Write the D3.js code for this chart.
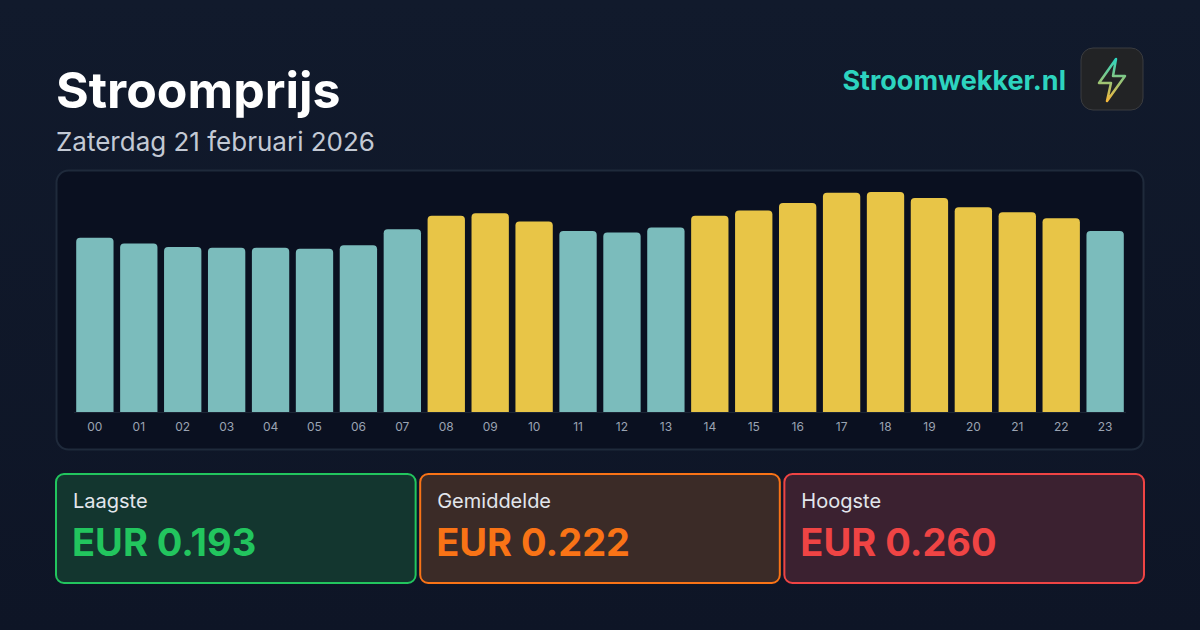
<!DOCTYPE html>
<html><head><meta charset="utf-8">
<script src="https://cdn.jsdelivr.net/npm/d3@7"></script>
<style>body{margin:0;background:#0f172a;}svg{display:block;font-family:Inter,sans-serif;}</style>
</head><body>
<script>
const hours = ['00','01','02','03','04','05','06','07','08','09','10','11','12','13','14','15','16','17','18','19','20','21','22','23'];
const prices = [0.206,0.199,0.195,0.194,0.194,0.193,0.197,0.216,0.232,0.235,0.225,0.214,0.212,0.218,0.232,0.238,0.247,0.259,0.260,0.253,0.242,0.236,0.229,0.214];
const statLabels = ['Laagste','Gemiddelde','Hoogste'];
const statValues = ['EUR 0.193','EUR 0.222','EUR 0.260'];
const average = 0.222;

const W = 1200, H = 630;
const svg = d3.select('body').append('svg').attr('width', W).attr('height', H);

const bg = svg.append('defs').append('linearGradient').attr('id','bg').attr('x1',0).attr('y1',0).attr('x2',0).attr('y2',1);
bg.append('stop').attr('offset','0%').attr('stop-color','#111a2c');
bg.append('stop').attr('offset','100%').attr('stop-color','#0e1526');
svg.append('rect').attr('width', W).attr('height', H).attr('fill','url(#bg)');

svg.append('text').attr('x',56).attr('y',108).attr('fill','#fff').attr('font-size',50).attr('font-weight',700).text('Stroomprijs');
svg.append('text').attr('x',56).attr('y',151).attr('fill','#c3c9d4').attr('font-size',26).text('Zaterdag 21 februari 2026');
svg.append('text').attr('x',1066).attr('y',90).attr('text-anchor','end').attr('fill','#2dd4bf').attr('font-size',27).attr('font-weight',700).text('Stroomwekker.nl');

// logo
svg.append('rect').attr('x',1081).attr('y',48).attr('width',62).attr('height',62).attr('rx',12).attr('fill','#222325').attr('stroke','#3a3c40');
const lg = svg.select('defs').append('linearGradient').attr('id','bolt').attr('x1',0).attr('y1',0).attr('x2',0).attr('y2',1);
lg.append('stop').attr('offset','0%').attr('stop-color','#2dd4bf');
lg.append('stop').attr('offset','100%').attr('stop-color','#f5b73a');
svg.append('path').attr('d','M1116,59 L1099,83 L1111,83 L1107,101 L1125,76 L1113,76 Z')
  .attr('fill','none').attr('stroke','url(#bolt)').attr('stroke-width',2.5).attr('stroke-linejoin','round');

// chart panel
svg.append('rect').attr('x',56.5).attr('y',170.5).attr('width',1087).attr('height',279).attr('rx',12).attr('fill','#0a1020').attr('stroke','#1f2a3b').attr('stroke-width',2);

const x = d3.scaleBand().domain(hours).range([74, 1126]).paddingInner(0.15).paddingOuter(0.05);
const y = d3.scaleLinear().domain([0, 0.260]).range([412, 192]);

svg.append('line').attr('x1',74).attr('x2',1126).attr('y1',412.5).attr('y2',412.5).attr('stroke','#1c2535');

svg.selectAll('path.bar').data(prices).enter().append('path').attr('class','bar')
  .attr('d', (d,i) => {
    const x0 = x(hours[i]), w = x.bandwidth(), t = y(d), b = y(0), r = 4;
    return `M${x0},${b} L${x0},${t+r} Q${x0},${t} ${x0+r},${t} L${x0+w-r},${t} Q${x0+w},${t} ${x0+w},${t+r} L${x0+w},${b} Z`;
  })
  .attr('fill', d => d > average ? '#e8c547' : '#7bbcbc');

const axis = d3.axisBottom(x).tickSize(0).tickPadding(10);
const ax = svg.append('g').attr('transform','translate(0,412)').call(axis);
ax.select('.domain').remove();
ax.selectAll('text').attr('fill','#9aa3b2').attr('font-size',12).attr('font-family','Inter,sans-serif');

// stat boxes
const boxStyle = [
  {fill:'#13362f', stroke:'#22c55e', text:'#22c55e'},
  {fill:'#3b2b27', stroke:'#f97316', text:'#f97316'},
  {fill:'#3b2130', stroke:'#ef4444', text:'#ef4444'}
];
const bx = d3.scaleBand().domain(statLabels).range([56, 1144]).paddingInner(0.0125);
const boxes = svg.selectAll('g.box').data(statLabels).enter().append('g').attr('class','box')
  .attr('transform', d => `translate(${bx(d)},474)`);
boxes.append('rect').attr('width', bx.bandwidth()).attr('height',109).attr('rx',8)
  .attr('fill',(d,i)=>boxStyle[i].fill).attr('stroke',(d,i)=>boxStyle[i].stroke).attr('stroke-width',2);
boxes.append('text').attr('x',17).attr('y',34).attr('fill','#e2e6ec').attr('font-size',20).text(d=>d);
boxes.append('text').attr('x',16).attr('y',82).attr('fill',(d,i)=>boxStyle[i].text).attr('font-size',38).attr('font-weight',700).text((d,i)=>statValues[i]);
</script>
</body></html>
